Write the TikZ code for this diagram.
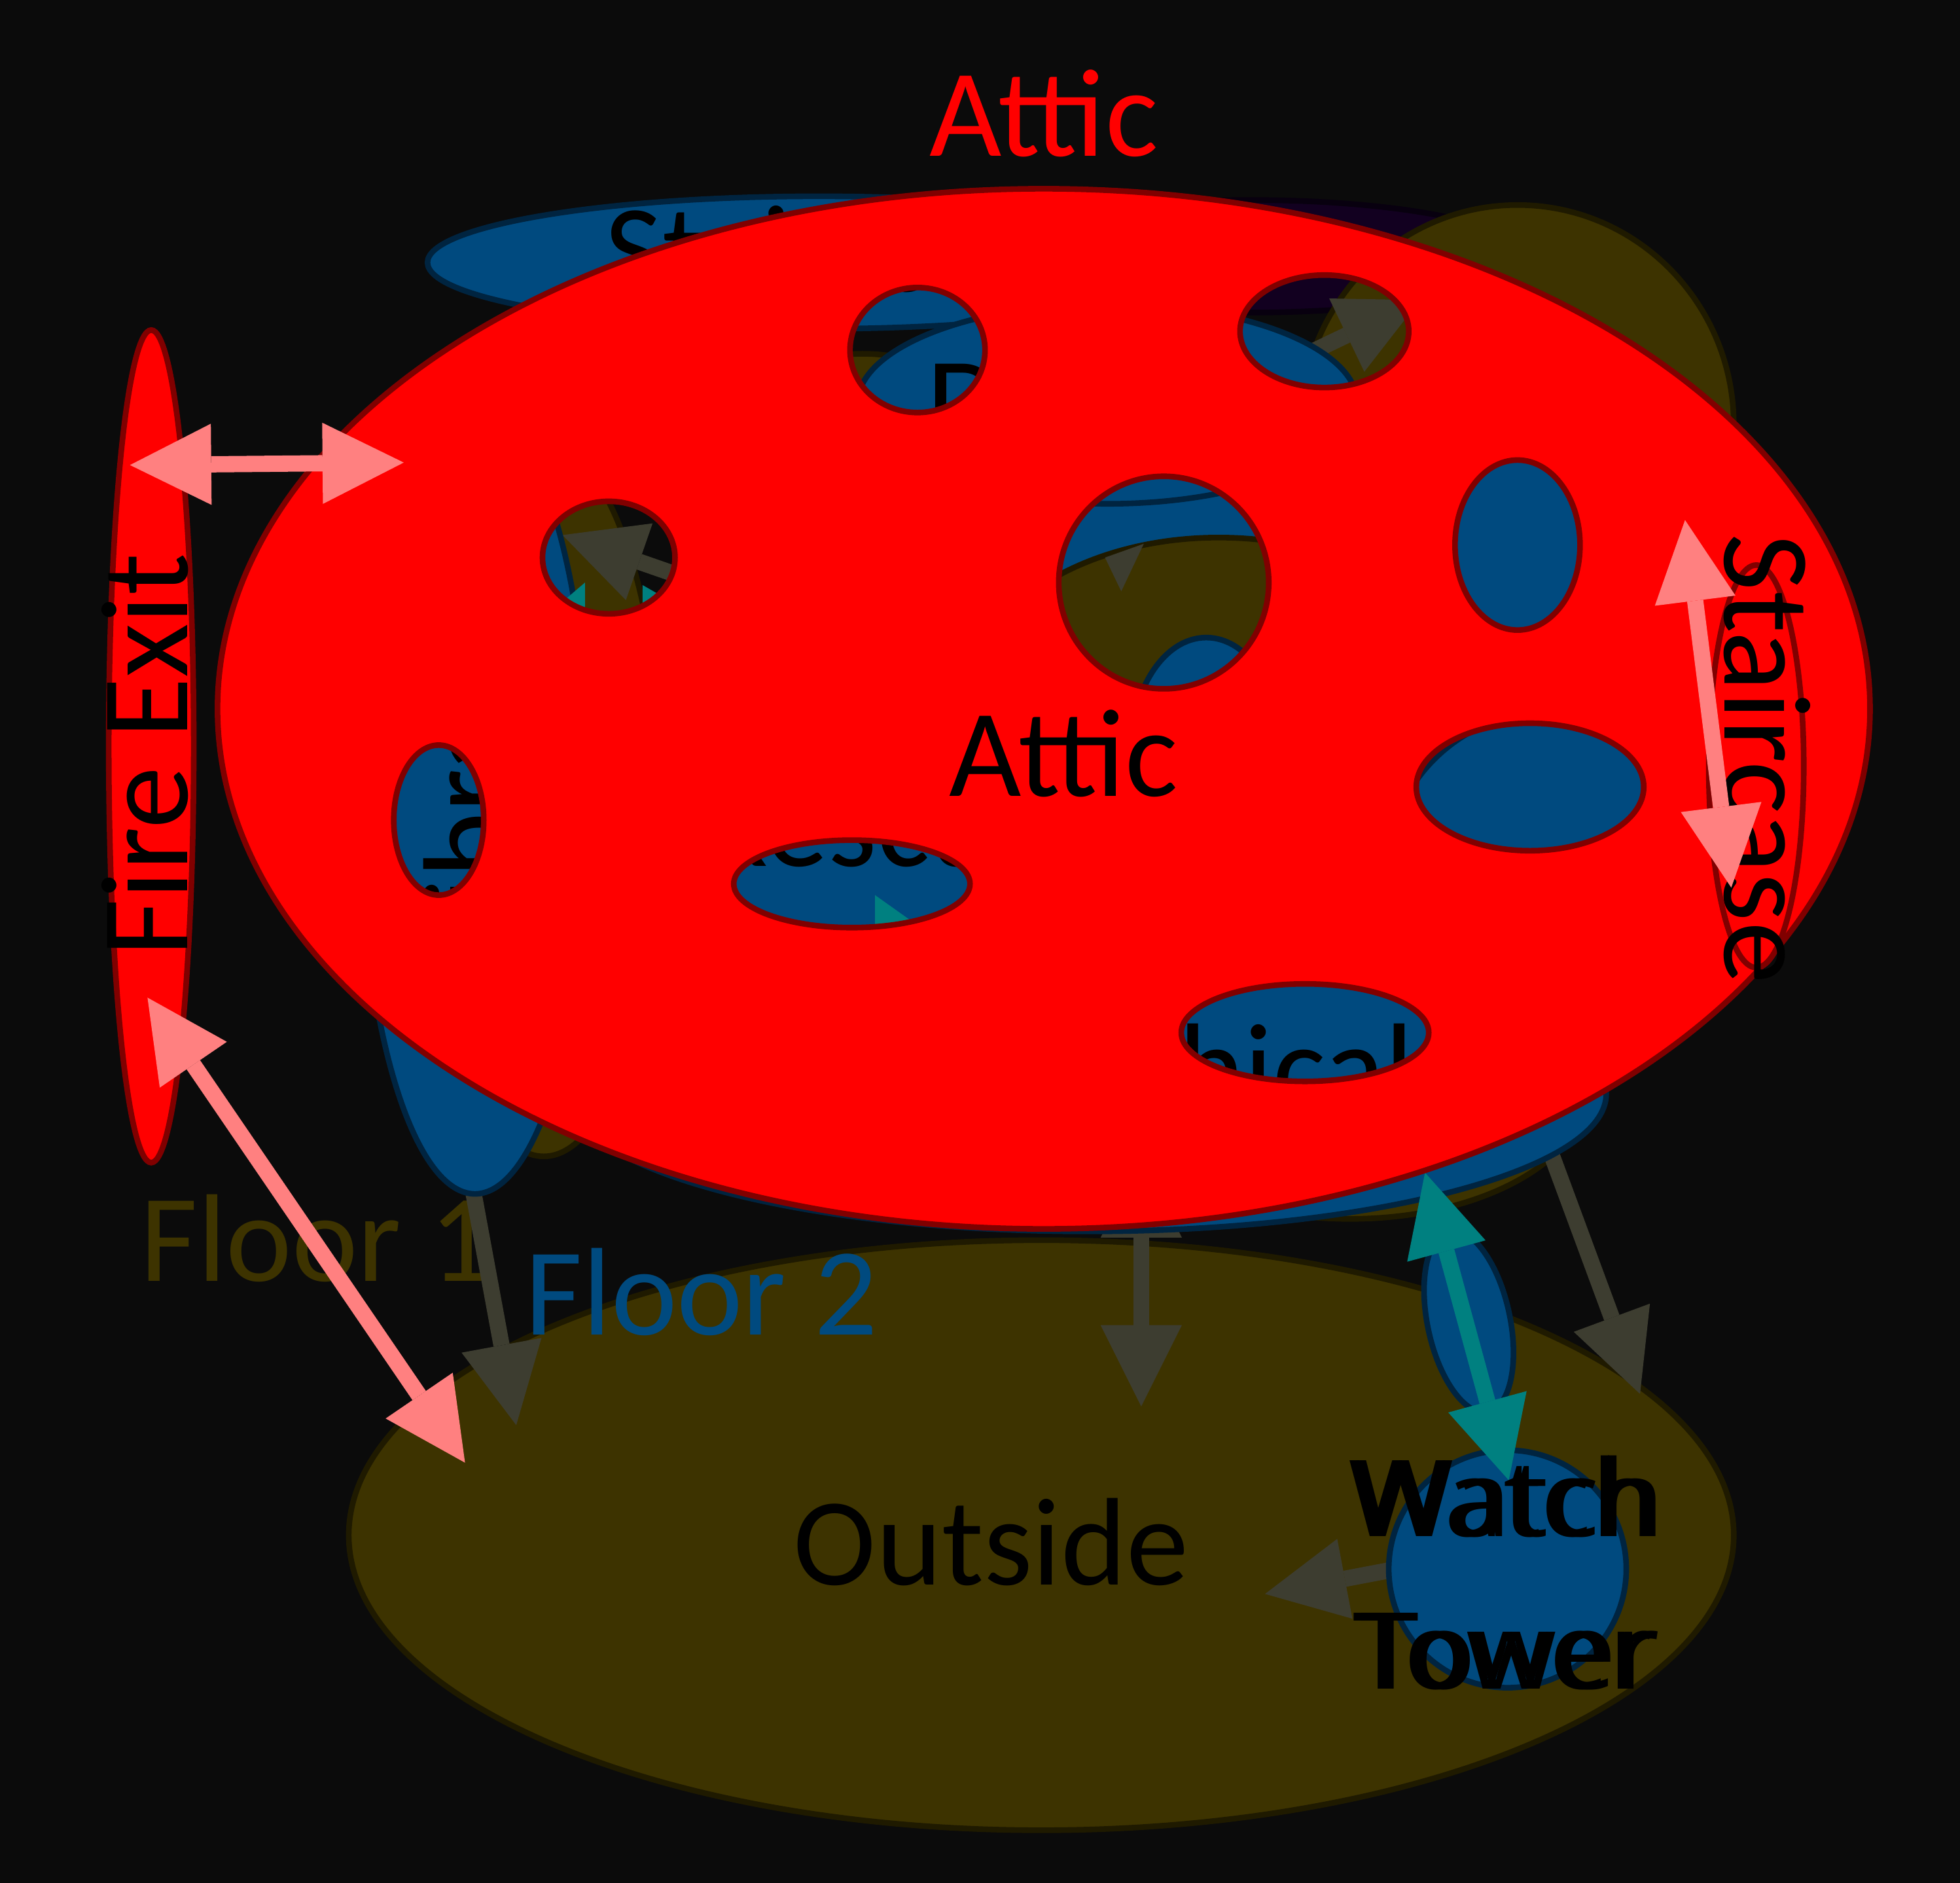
\documentclass[tikz,border=0pt]{standalone}
\usepackage{fontspec}
\setmainfont{Carlito}
\newfontfamily\wtfont{Open Sans}
\usetikzlibrary{arrows.meta}
\definecolor{bgc}{HTML}{0B0B0B}
\definecolor{redf}{HTML}{FF0000}
\definecolor{redd}{HTML}{800000}
\definecolor{bluef}{HTML}{004A7F}
\definecolor{blued}{HTML}{002440}
\definecolor{olivef}{HTML}{3D3300}
\definecolor{olived}{HTML}{1F1A00}
\definecolor{purpf}{HTML}{120020}
\definecolor{purpd}{HTML}{08000F}
\definecolor{grayc}{HTML}{3D3D30}
\definecolor{tealc}{HTML}{008080}
\definecolor{pinkc}{HTML}{FF8080}
\begin{document}
\begin{tikzpicture}[x=0.02cm,y=-0.02cm,
  bluenode/.style={fill=bluef,draw=blued,line width=0.09cm},
  olivenode/.style={fill=olivef,draw=olived,line width=0.09cm},
  rednode/.style={fill=redf,draw=redd,line width=0.09cm},
  lbl/.style={inner sep=0pt,font=\fontsize{56.8}{68}\selectfont},
  wtlbl/.style={inner sep=0pt,font=\wtfont\fontsize{48.4}{60}\selectfont},
  edge/.style={line width=0.26cm,>={Triangle[length=13mm,width=13mm,line width=0pt]}}]
\fill[bgc] (0,0) rectangle (1568,1506);
\useasboundingbox (0,0) rectangle (1568,1506);
% ---------- bottom layer
\draw[olivenode] (833,1228) ellipse (554 and 236);
\node[lbl,text=olivef,anchor=base west] (floor1) at (112,1025) {Floor 1};
\node[lbl,text=bluef,anchor=base west] (floor2) at (420,1068) {Floor 2};
\draw[fill=purpf,draw=purpd,line width=0.09cm] (1000,205) ellipse (220 and 45);
\draw[olivenode] (1214,340) ellipse (173 and 176);
\draw[bluenode] (655,210) ellipse (313 and 53);
\node[lbl,anchor=base] (stair2) at (664,233) {Staircase};
\draw[olivenode] (435,640) ellipse (95 and 285);
\draw[olivenode] (690,360) ellipse (110 and 77);
\draw[olivenode] (1080,870) ellipse (190 and 105);
\fill[bluef] (932,467) circle (90);
\draw[olivenode] (975,560) ellipse (200 and 130);
\fill[grayc] (884,446) -- (915,435) -- (897,473) -- cycle;
% ---------- gray connectors
\coordinate (h3s) at (565,468); \coordinate (h3t) at (450,428);
\coordinate (h2s) at (1017,297); \coordinate (h2t) at (1136,240);
\coordinate (e1s) at (378,950); \coordinate (e1t) at (413,1140);
\coordinate (e2s) at (913,925); \coordinate (e2t) at (913,1125);
\coordinate (e3s) at (1238,915); \coordinate (e3t) at (1312,1115);
\coordinate (e4s) at (1112,1256); \coordinate (e4t) at (1012,1275);
\draw[edge,grayc,->] (h3s) -- (h3t);
\draw[edge,grayc,->] (h2s) -- (h2t);
\draw[edge,grayc,->] (e1s) -- (e1t);
\draw[edge,grayc,<->] (e2s) -- (e2t);
\draw[edge,grayc,->] (e3s) -- (e3t);
\draw[edge,grayc,->] (e4s) -- (e4t);
% ---------- blue nodes
\draw[bluenode] (380,640) ellipse (92 and 315);
\node[lbl,rotate=90,anchor=base] (library) at (408,628) {Library};
\draw[bluenode] (886,323) ellipse (200 and 80);
\node[lbl,anchor=base west] (dnode) at (741,355) {D};
\draw[bluenode] (870,875) ellipse (415 and 110);
\node[lbl,anchor=base west] (hical) at (943,888) {hical};
\draw[bluenode] (690,690) ellipse (170 and 75);
\node[lbl,anchor=base west] (rescue) at (560,693) {Rescue};
\draw[bluenode] (965,600) ellipse (60 and 90);
\fill[bluef] (1214,436) ellipse (60 and 80);
\fill[bluef] (1224,629) ellipse (100 and 60);
\draw[bluenode] (1240,700) circle (131);
\fill[tealc] (440,490) -- (468,466) -- (468,500) -- cycle;
\fill[tealc] (514,468) -- (528,476) -- (514,490) -- cycle;
\fill[tealc] (700,716) -- (745,748) -- (700,762) -- cycle;
% ---------- watch tower
\draw[bluenode,rotate around={12:(1175,1057)}] (1175,1057) ellipse (33 and 74);
\draw[bluenode] (1206,1255) circle (95);
\coordinate (t1s) at (1140,938); \coordinate (t1t) at (1207,1184);
\draw[edge,tealc,<->] (t1s) -- (t1t);
\node[wtlbl,anchor=base] (watchA) at (1202,1229) {Watch};
\node[wtlbl,anchor=base] (watchB) at (1208,1229) {Watch};
\node[wtlbl,anchor=base] (towerA) at (1202,1351) {Tower};
\node[wtlbl,anchor=base] (towerB) at (1208,1351) {Tower};
\node[lbl,anchor=base] (outside) at (793,1268) {Outside};
% ---------- attic with holes
\def\holes{(734,280) ellipse (54 and 50)
  (1059.5,265) ellipse (67.5 and 45)
  (487,446) ellipse (53 and 45)
  (931,466) ellipse (84 and 85)
  (1214,436) ellipse (50 and 68)
  (351,656) ellipse (36 and 60)
  (681.5,707) ellipse (94.5 and 35)
  (1224,629.5) ellipse (91 and 51)
  (1044,826) ellipse (99 and 39)}
\fill[redf,even odd rule] (835,567) ellipse (661 and 416) \holes;
\draw[redd,line width=0.09cm] (835,567) ellipse (661 and 416) \holes;
\node[lbl,anchor=base] (attic) at (851,637) {Attic};
\node[lbl,text=redf,anchor=base] (attictitle) at (835,125) {Attic};
% ---------- attic staircase
\draw[rednode] (1405,613) ellipse (38 and 161);
\node[lbl,rotate=-90,anchor=base] (stair3) at (1380,607) {Staircase};
\coordinate (p3s) at (1348,416); \coordinate (p3t) at (1385,710);
\draw[edge,pinkc,<->] (p3s) -- (p3t);
% ---------- fire exit
\draw[rednode] (121,597) ellipse (34 and 333);
\node[lbl,rotate=90,anchor=base] (fireexit) at (150,604) {Fire Exit};
\coordinate (p1s) at (104,372); \coordinate (p1t) at (323,370);
\coordinate (p2s) at (118,798); \coordinate (p2t) at (372,1170);
\draw[edge,pinkc,<->] (p1s) -- (p1t);
\draw[edge,pinkc,<->] (p2s) -- (p2t);
\end{tikzpicture}
\end{document}
